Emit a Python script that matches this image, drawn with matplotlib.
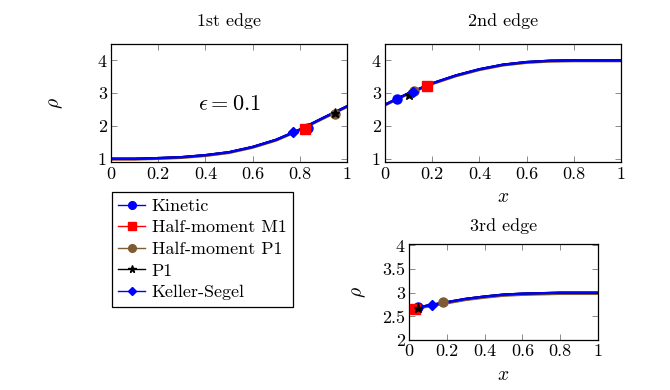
import numpy as np
import matplotlib
matplotlib.use("Agg")
import matplotlib.pyplot as plt

plt.rcParams['font.family'] = ['cmr10', 'DejaVu Serif']
plt.rcParams['mathtext.fontset'] = 'cm'
plt.rcParams['axes.formatter.use_mathtext'] = True

# curves
x = [0.0, 0.1, 0.2, 0.3, 0.4, 0.5, 0.6, 0.7, 0.8, 0.9, 1.0]
rho1 = [1.0, 1.0, 1.02, 1.05, 1.11, 1.2, 1.36, 1.58, 1.89, 2.25, 2.6]
rho2 = [2.65, 3.0, 3.3, 3.54, 3.73, 3.87, 3.95, 3.99, 4.0, 4.0, 4.0]
rho3 = [2.65, 2.73, 2.8, 2.87, 2.92, 2.96, 2.98, 2.99, 3.0, 3.0, 3.0]

names = ["Kinetic", "Half-moment M1", "Half-moment P1", "P1", "Keller-Segel"]
colors = ["#0000ff", "#ff0000", "#7f5a32", "black", "#0000ff"]
markers = ["o", "s", "o", "*", "D"]
msizes = [6.5, 6.5, 6.5, 6.5, 5]
# small offsets so the five nearly equal curves show as in the picture
shift = [0.0, -0.012, -0.025, 0.0, 0.0]

# marker positions (x, rho) for each series on each edge
pts1 = [(0.835, 1.93), (0.82, 1.9), (0.95, 2.35), (0.95, 2.4), (0.77, 1.82)]
pts2 = [(0.05, 2.83), (0.18, 3.23), (0.125, 3.08), (0.10, 2.95), (0.12, 3.03)]
pts3 = [(0.05, 2.69), (0.03, 2.66), (0.18, 2.8), (0.05, 2.68), (0.12, 2.74)]

fig = plt.figure(figsize=(6.7, 3.9), dpi=100)
ax1 = fig.add_axes([0.1657, 0.5846, 0.3522, 0.3026])
ax2 = fig.add_axes([0.5746, 0.5846, 0.3522, 0.3026])
ax3 = fig.add_axes([0.6104, 0.1282, 0.2821, 0.2462])


def draw(ax, rho, pts):
    handles = []
    for i in range(5):
        y = np.array(rho) + shift[i]
        ax.plot(x, y, color=colors[i], lw=1.6, zorder=2 + i * 0.1)
        px, py = pts[i]
        ax.plot(px, py, marker=markers[i], color=colors[i], ms=msizes[i],
                ls='none', zorder=3 + i * 0.1)
        h, = ax.plot([], [], color=colors[i], marker=markers[i], ms=msizes[i] * 0.85,
                     lw=1.0)
        handles.append(h)
    return handles


def style(ax):
    ax.tick_params(direction='in', top=True, right=True, length=4, width=0.6,
                   color='#777777', labelsize=13, pad=3)
    for s in ax.spines.values():
        s.set_linewidth(0.9)
    ax.set_xlim(0, 1)
    ax.set_xticks([0, 0.2, 0.4, 0.6, 0.8, 1])
    ax.set_xticklabels(["0", "0.2", "0.4", "0.6", "0.8", "1"])


handles = draw(ax1, rho1, pts1)
draw(ax2, rho2, pts2)
draw(ax3, rho3, pts3)

for ax in (ax1, ax2):
    style(ax)
    ax.set_ylim(0.9, 4.5)
    ax.set_yticks([1, 2, 3, 4])
    ax.set_yticklabels(["1", "2", "3", "4"])
style(ax3)
ax3.set_ylim(2, 4.03)
ax3.set_yticks([2, 2.5, 3, 3.5, 4])
ax3.set_yticklabels(["2", "2.5", "3", "3.5", "4"])

ax1.set_title("1st edge", fontsize=13, pad=13)
ax2.set_title("2nd edge", fontsize=13, pad=13)
ax3.set_title("3rd edge", fontsize=13, pad=9)
ax1.set_ylabel(r"$\rho$", fontsize=14, labelpad=24)
ax3.set_ylabel(r"$\rho$", fontsize=14, labelpad=10)
ax2.set_xlabel(r"$x$", fontsize=14, labelpad=5)
ax3.set_xlabel(r"$x$", fontsize=14, labelpad=5)

ax1.text(0.5, 2.65, r"$\epsilon = 0.1$", fontsize=16, ha='center', va='center')

leg = fig.legend(handles, names, loc='upper left', bbox_to_anchor=(0.167, 0.508),
                 borderaxespad=0, fontsize=13, fancybox=False, edgecolor='black',
                 framealpha=1, handlelength=1.5, handletextpad=0.35,
                 labelspacing=0.33, borderpad=0.35)
leg.get_frame().set_linewidth(0.9)

fig.savefig("out.png", dpi=100)
